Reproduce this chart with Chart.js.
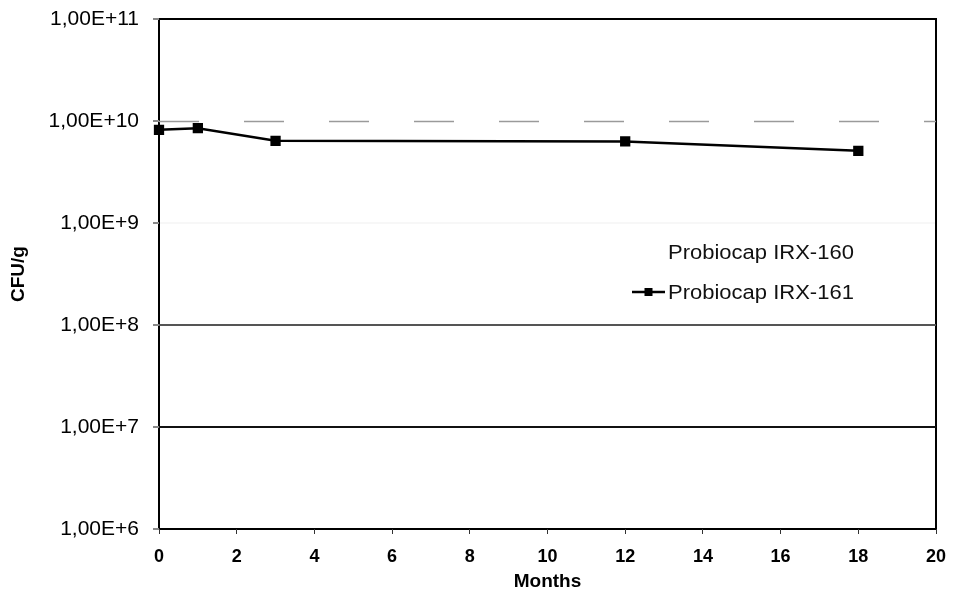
<!DOCTYPE html>
<html>
<head>
<meta charset="utf-8">
<script src="https://cdn.jsdelivr.net/npm/chart.js@4.4.0/dist/chart.umd.min.js"></script>
<style>
html, body { margin: 0; padding: 0; background: #fff; }
#wrap { width: 962px; height: 597px; position: relative; }
</style>
</head>
<body>
<div id="wrap"><canvas id="cfu_chart" width="962" height="597"></canvas></div>
<script>
// values
var months = [0, 1, 3, 12, 18];
var irx161 = [8.2e9, 8.5e9, 6.4e9, 6.3e9, 5.1e9];
var irx160 = [];
var seriesNames = ["Probiocap IRX-160", "Probiocap IRX-161"];
var yTickValues = [1e6, 1e7, 1e8, 1e9, 1e10, 1e11];
var xTickValues = [0, 2, 4, 6, 8, 10, 12, 14, 16, 18, 20];

var FONT = "'Liberation Sans', Arial, sans-serif";

function sciLabel(v) {
    // 1e10 -> "1,00E+10"
    return v.toExponential(2).replace(".", ",").replace("e", "E");
}

function toPoints(xs, ys) {
    return ys.map(function (y, i) { return { x: xs[i], y: y }; });
}

var framePlugin = {
    id: "frame",
    beforeDatasetsDraw(chart) {
        var ctx = chart.ctx, a = chart.chartArea, y = chart.scales.y;
        // faint dashed decade line at 1e10
        var py = Math.round(y.getPixelForValue(1e10)) + 0.5;
        ctx.save();
        ctx.strokeStyle = "#9a9a9a";
        ctx.lineWidth = 1.5;
        ctx.setLineDash([40, 45]);
        ctx.beginPath();
        ctx.moveTo(a.left, py);
        ctx.lineTo(a.right, py);
        ctx.stroke();
        ctx.restore();
    },
    beforeDraw(chart) {
        var ctx = chart.ctx, a = chart.chartArea;
        ctx.save();
        ctx.strokeStyle = "#000";
        ctx.lineWidth = 2;
        ctx.strokeRect(a.left, a.top, a.right - a.left, a.bottom - a.top);
        ctx.restore();
    },
};

var insideLegendPlugin = {
    id: "insideLegend",
    afterDraw(chart, args, opts) {
        var ctx = chart.ctx;
        ctx.save();
        ctx.textBaseline = "middle";
        chart.data.datasets.forEach(function (ds, i) {
            var yy = opts.top + i * opts.rowGap;
            ctx.strokeStyle = ds.borderColor;
            ctx.lineWidth = 2.5;
            ctx.beginPath();
            ctx.moveTo(opts.left, yy);
            ctx.lineTo(opts.left + opts.lineLen, yy);
            ctx.stroke();
            ctx.fillStyle = ds.pointBackgroundColor;
            var mx = opts.left + opts.lineLen / 2;
            ctx.fillRect(mx - 4, yy - 4, 8, 8);
            // scanned text is a little wider than Arial, stretch it a bit
            ctx.save();
            ctx.translate(opts.left + opts.lineLen + 3, yy + 1);
            ctx.scale(1.1, 1);
            ctx.font = "20px " + FONT;
            ctx.fillStyle = "#111";
            ctx.fillText(ds.label, 0, 0);
            ctx.restore();
        });
        ctx.restore();
    },
};

var ctx = document.getElementById("cfu_chart");
var myChart = new Chart(ctx, {
    type: "line",
    data: {
        datasets: [
            { label: seriesNames[0], data: toPoints(months, irx160), borderColor: "rgba(255,255,255,0)", pointBackgroundColor: "rgba(255,255,255,0)", pointRadius: 0 },
            {
                label: seriesNames[1],
                data: toPoints(months, irx161),
                borderColor: "#000",
                backgroundColor: "#000",
                pointBackgroundColor: "#000",
                pointBorderColor: "#000",
                borderWidth: 2.5,
                pointStyle: "rect",
                pointRadius: 5.5,
                tension: 0,
                clip: false,
            },
        ],
    },
    options: {
        responsive: false,
        animation: false,
        devicePixelRatio: 1,
        layout: { padding: { top: 19, right: 26, left: 0, bottom: 0 } },
        scales: {
            x: {
                type: "linear",
                min: 0,
                max: 20,
                afterBuildTicks: function (s) { s.ticks = xTickValues.map(function (v) { return { value: v }; }); },
                afterFit: function (s) { s.height = 68; s.paddingLeft = 0; s.paddingRight = 0; },
                grid: { drawOnChartArea: false, color: "#000", tickLength: 5, tickColor: "#333" },
                border: { display: false },
                ticks: { color: "#000", font: { family: FONT, size: 18, weight: "bold" }, padding: 12, maxRotation: 0, autoSkip: false },
                title: { display: true, text: "Months", color: "#000", font: { family: FONT, size: 19, weight: "bold" }, padding: { top: 0, bottom: 4 } },
            },
            y: {
                type: "logarithmic",
                min: 1e6,
                max: 1e11,
                afterBuildTicks: function (s) { s.ticks = yTickValues.map(function (v) { return { value: v }; }); },
                afterFit: function (s) { s.width = 159; s.paddingTop = 0; s.paddingBottom = 0; },
                grid: {
                    tickLength: 6,
                    tickColor: "#888",
                    lineWidth: 2,
                    color: function (c) {
                        var v = c.tick && c.tick.value;
                        if (v === 1e7) return "#111";
                        if (v === 1e8) return "#555";
                        if (v === 1e9) return "rgba(0,0,0,0.03)";
                        return "rgba(0,0,0,0)";
                    },
                },
                border: { display: false },
                ticks: { color: "#000", font: { family: FONT, size: 21 }, padding: 14, autoSkip: false, callback: function (v) { return sciLabel(v); } },
                title: { display: true, text: "CFU/g", color: "#000", font: { family: FONT, size: 19, weight: "bold" }, padding: { top: 7, bottom: 0 } },
            },
        },
        plugins: {
            legend: { display: false },
            tooltip: { enabled: false },
            insideLegend: { left: 632, top: 252, rowGap: 40, lineLen: 33 },
        },
    },
    plugins: [framePlugin, insideLegendPlugin],
});
</script>
</body>
</html>
